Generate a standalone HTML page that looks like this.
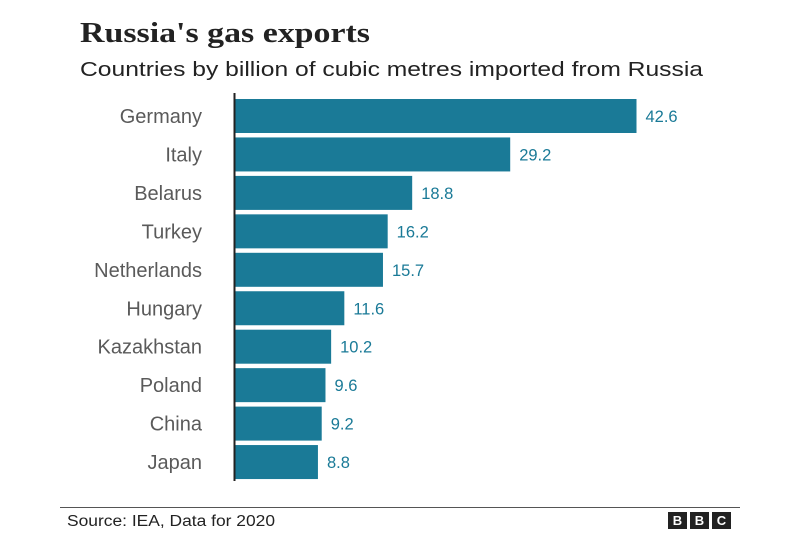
<!DOCTYPE html>
<html><head><meta charset="utf-8"><style>
body{margin:0;background:#fff;width:800px;height:533px;overflow:hidden;font-family:"Liberation Sans",sans-serif;}
</style></head><body>
<svg width="800" height="533">
<text x="80" y="42" font-family="Liberation Serif, serif" font-weight="bold" font-size="29" fill="#222" textLength="290" lengthAdjust="spacingAndGlyphs">Russia's gas exports</text>
<text x="80" y="76" font-size="20.5" fill="#222" textLength="623" lengthAdjust="spacingAndGlyphs">Countries by billion of cubic metres imported from Russia</text>
<g id="bars"></g>
<line x1="234.5" y1="93" x2="234.5" y2="481" stroke="#222" stroke-width="2"/>
<line x1="60" y1="507.5" x2="740" y2="507.5" stroke="#555" stroke-width="1"/>
<text x="67" y="526" font-size="15.5" fill="#222" textLength="208" lengthAdjust="spacingAndGlyphs">Source: IEA, Data for 2020</text>
<g font-weight="bold" font-size="13" fill="#fff" text-anchor="middle">
<rect x="668" y="512" width="19" height="17" fill="#222"/><text x="677.5" y="525">B</text>
<rect x="690" y="512" width="19" height="17" fill="#222"/><text x="699.5" y="525">B</text>
<rect x="712" y="512" width="19" height="17" fill="#222"/><text x="721.5" y="525">C</text>
</g>
</svg>
<script>
const categories=["Germany","Italy","Belarus","Turkey","Netherlands","Hungary","Kazakhstan","Poland","China","Japan"];
const values=[42.6,29.2,18.8,16.2,15.7,11.6,10.2,9.6,9.2,8.8];
const labels=["42.6","29.2","18.8","16.2","15.7","11.6","10.2","9.6","9.2","8.8"];
const NS="http://www.w3.org/2000/svg";
const x0=235, k=401.5/42.6;
const xs=v=>x0+v*k;
const ys=i=>99+i*38.45;
const g=document.getElementById('bars');
categories.forEach((c,i)=>{
  const r=document.createElementNS(NS,'rect');
  r.setAttribute('x',x0);r.setAttribute('y',ys(i));r.setAttribute('width',xs(values[i])-x0);r.setAttribute('height',34);r.setAttribute('fill','#1a7a97');
  
  
  g.appendChild(r);
  const t=document.createElementNS(NS,'text');
  t.setAttribute('x',202);t.setAttribute('y',ys(i)+24);t.setAttribute('text-anchor','end');t.setAttribute('font-size','20');t.setAttribute('fill','#5a5a5a');
  t.textContent=c;
  
  
  g.appendChild(t);
  const v=document.createElementNS(NS,'text');
  v.setAttribute('x',xs(values[i])+9);v.setAttribute('y',ys(i)+23);v.setAttribute('font-size','16.5');v.setAttribute('fill','#1a7a97');
  v.textContent=labels[i];
  
  
  g.appendChild(v);
});
</script>
</body></html>
